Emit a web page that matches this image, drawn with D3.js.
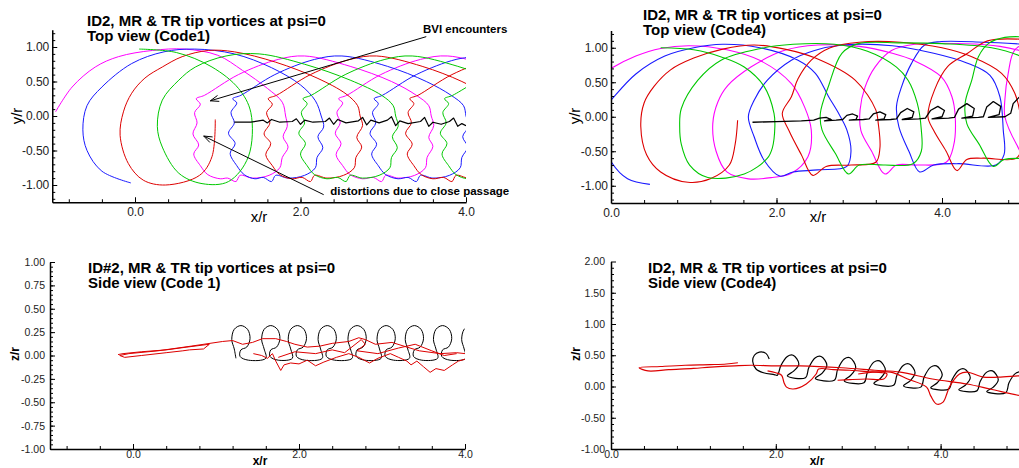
<!DOCTYPE html>
<html>
<head>
<meta charset="utf-8">
<script src="https://cdn.jsdelivr.net/npm/d3@7"></script>
<style>
  body { margin: 0; background: #fff; }
  svg { font-family: "Liberation Sans", Arial, sans-serif; }
</style>
</head>
<body>
<div id="wrapper"></div>
<script>
// ---- top view, Code1 (main rotor tip vortices, one trace per blade) ----
const top1Magenta = [[-0.96,0.06],[-0.76,0.42],[-0.48,0.71],[-0.2,0.86],[0.21,0.95],[0.6,0.97],[1.0,0.88],[1.3,0.66],[1.6,0.4],[1.78,0.2],[1.82,0.0],
  [1.84,-0.15],[1.79,-0.3],[1.85,-0.45],[1.78,-0.6],[1.75,-0.75],[1.62,-0.86],[1.42,-0.9],[1.27,-0.86],[1.22,-0.95],[1.12,-0.9],[1.03,-0.91],[0.88,-0.85],
  [0.79,-0.72],[0.71,-0.55],[0.77,-0.42],[0.7,-0.26],[0.75,-0.1],[0.72,0.05],[0.79,0.17],[0.74,0.25],[0.84,0.3],[1.25,0.6],[1.73,0.82],[2.05,0.87],
  [2.6,0.72],[3.1,0.5],[3.4,0.3],[3.55,0.15],[3.58,0.0],
  [3.61,-0.14],[3.55,-0.31],[3.6,-0.44],[3.53,-0.6],[3.51,-0.75],[3.38,-0.86],[3.18,-0.9],[3.03,-0.86],[2.98,-0.95],[2.88,-0.89],[2.75,-0.91],[2.6,-0.85],
  [2.51,-0.72],[2.43,-0.56],[2.49,-0.4],[2.42,-0.25],[2.48,-0.1],[2.44,0.05],[2.51,0.19],[2.46,0.25],[2.56,0.3],[2.97,0.6],[3.45,0.82],[3.78,0.87],[4.3,0.72],[4.8,0.5]];
const top1Blue = [[-0.05,-0.97],[-0.4,-0.8],[-0.58,-0.5],[-0.63,-0.2],[-0.58,0.15],[-0.4,0.42],[-0.04,0.76],[0.35,0.93],[0.72,0.97],[1.2,0.9],[1.65,0.7],[2.0,0.45],[2.18,0.22],[2.25,0.0],
  [2.28,-0.16],[2.21,-0.3],[2.27,-0.46],[2.2,-0.6],[2.18,-0.75],[2.05,-0.86],[1.85,-0.9],[1.7,-0.86],[1.65,-0.95],[1.55,-0.89],[1.45,-0.91],[1.32,-0.85],
  [1.23,-0.72],[1.15,-0.54],[1.21,-0.4],[1.13,-0.25],[1.2,-0.1],[1.16,0.05],[1.23,0.19],[1.18,0.25],[1.28,0.3],[1.69,0.6],[2.17,0.82],[2.5,0.87],
  [3.05,0.72],[3.52,0.5],[3.82,0.3],[3.97,0.15],[4.0,0.0],
  [4.03,-0.15],[3.96,-0.3],[4.02,-0.45],[3.95,-0.6],[3.93,-0.75],[3.8,-0.86],[3.6,-0.9],[3.45,-0.86],[3.4,-0.95],[3.3,-0.89],[3.18,-0.91],[3.03,-0.85],
  [2.94,-0.72],[2.86,-0.55],[2.92,-0.41],[2.84,-0.25],[2.91,-0.1],[2.87,0.05],[2.94,0.18],[2.89,0.25],[2.99,0.3],[3.4,0.6],[3.88,0.82],[4.21,0.87]];
const top1Red = [[0.97,-0.05],[0.93,-0.59],[0.78,-0.86],[0.37,-1.0],[0.1,-0.93],[-0.08,-0.69],[-0.18,-0.28],[-0.14,0.06],[-0.04,0.33],[0.12,0.55],[0.33,0.71],[0.57,0.86],[0.89,0.95],[1.2,0.93],
  [1.7,0.78],[2.2,0.55],[2.55,0.32],[2.69,0.15],[2.72,0.0],
  [2.75,-0.14],[2.68,-0.31],[2.74,-0.45],[2.67,-0.6],[2.65,-0.75],[2.52,-0.86],[2.32,-0.9],[2.17,-0.86],[2.12,-0.95],[2.02,-0.89],[1.9,-0.91],[1.75,-0.85],
  [1.66,-0.72],[1.58,-0.56],[1.64,-0.4],[1.56,-0.26],[1.63,-0.1],[1.59,0.05],[1.66,0.17],[1.61,0.25],[1.71,0.3],[2.12,0.6],[2.6,0.82],[2.92,0.87],
  [3.47,0.72],[3.95,0.5],[4.25,0.3],[4.4,0.15],[4.43,0.0],
  [4.45,-0.15],[4.4,-0.3],[4.45,-0.45],[4.39,-0.6],[4.35,-0.75],[4.23,-0.86],[4.03,-0.9],[3.88,-0.86],[3.83,-0.95],[3.73,-0.89],[3.6,-0.91],[3.46,-0.85],
  [3.37,-0.72],[3.29,-0.55],[3.35,-0.41],[3.27,-0.25],[3.34,-0.1],[3.3,0.05],[3.37,0.18],[3.32,0.25],[3.42,0.3],[3.83,0.6],[4.31,0.82],[4.63,0.87]];
const top1Green = [[0.05,0.97],[0.5,0.92],[0.93,0.71],[1.25,0.4],[1.4,0.05],[1.37,-0.59],[1.13,-0.95],[0.81,-0.98],[0.53,-0.83],[0.33,-0.45],[0.27,-0.15],[0.33,0.23],[0.53,0.52],[0.73,0.71],[1.1,0.87],[1.5,0.9],
  [2.05,0.75],[2.6,0.52],[2.98,0.3],[3.12,0.15],[3.15,0.0],
  [3.18,-0.15],[3.11,-0.3],[3.17,-0.46],[3.1,-0.6],[3.08,-0.75],[2.95,-0.86],[2.75,-0.9],[2.6,-0.86],[2.55,-0.95],[2.45,-0.89],[2.32,-0.91],[2.17,-0.85],
  [2.08,-0.72],[2.0,-0.55],[2.06,-0.4],[1.98,-0.25],[2.05,-0.1],[2.01,0.05],[2.08,0.18],[2.03,0.25],[2.13,0.3],[2.54,0.6],[3.02,0.82],[3.35,0.87],
  [3.9,0.72],[4.4,0.5],[4.72,0.3],[4.85,0.0],[4.85,-0.6],[4.7,-0.86],[4.45,-0.9],[4.3,-0.86],[4.25,-0.95],[4.15,-0.89],[4.02,-0.91],[3.88,-0.85],
  [3.79,-0.72],[3.71,-0.55],[3.77,-0.4],[3.69,-0.25],[3.76,-0.1],[3.72,0.05],[3.79,0.18],[3.74,0.25],[3.84,0.3],[4.25,0.6]];
const top1Black = [[1.2,-0.09],[1.4,-0.09],[1.55,-0.06],[1.6,-0.1],[1.65,-0.05],[1.75,-0.09],[1.9,-0.08],[1.95,-0.04],[2.0,-0.12],[2.05,-0.06],[2.15,-0.09],[2.3,-0.08],[2.35,-0.03],[2.4,-0.12],[2.45,-0.05],[2.55,-0.1],[2.7,-0.07],[2.75,-0.02],[2.8,-0.13],[2.85,-0.06],[2.95,-0.1],[3.05,-0.06],[3.1,-0.01],[3.15,-0.14],[3.2,-0.07],[3.3,-0.11],[3.45,-0.08],[3.5,-0.02],[3.55,-0.15],[3.6,-0.09],[3.7,-0.12],[3.8,-0.08],[3.85,-0.03],[3.9,-0.15],[3.95,-0.11],[4.0,-0.14]];

// ---- top view, Code4 ----
const top4Magenta = [[-0.45,0.0],[-0.3,0.45],[0.0,0.7],[0.3,0.88],[0.6,0.99],[0.95,1.03],[1.4,0.97],[1.81,0.81],[2.18,0.48],[2.34,0.14],[2.42,-0.19],[2.38,-0.58],[2.18,-0.82],[1.95,-0.88],[1.66,-0.9],[1.4,-0.8],[1.27,-0.5],[1.23,-0.1],[1.29,0.21],[1.41,0.45],[1.69,0.72],[2.09,0.96],[2.5,1.04],[3.0,1.02],[3.4,0.92],[3.67,0.81],[3.99,0.58],[4.12,0.29],[4.16,0.0],[4.14,-0.42],[4.05,-0.66],[3.7,-0.7],[3.45,-0.7],[3.31,-0.83],[3.15,-0.5],[3.02,-0.2],[3.01,0.1],[3.07,0.43],[3.19,0.72],[3.39,0.96],[3.67,1.05],[4.2,1.06],[4.7,1.02],[5.2,0.85],[5.6,0.5],[5.8,0.0],[5.75,-0.5],[5.5,-0.62],[5.2,-0.62],[5.08,-0.72],[4.9,-0.4],[4.76,0.0],[4.76,0.25],[4.8,0.63],[4.88,0.97],[5.1,1.1]];
const top4Blue = [[0.47,-0.98],[0.2,-0.9],[0.0,-0.65],[-0.15,-0.2],[-0.1,0.1],[0.0,0.24],[0.3,0.62],[0.65,0.88],[1.0,1.0],[1.35,1.05],[1.8,1.0],[2.26,0.82],[2.47,0.63],[2.63,0.29],[2.75,0.05],[2.85,-0.19],[2.9,-0.5],[2.85,-0.72],[2.5,-0.77],[2.2,-0.8],[2.04,-0.86],[1.85,-0.63],[1.73,-0.29],[1.66,0.0],[1.73,0.24],[1.89,0.53],[2.18,0.82],[2.46,0.96],[2.8,1.04],[3.4,1.03],[3.9,0.92],[4.3,0.78],[4.58,0.6],[4.7,0.29],[4.74,-0.19],[4.75,-0.55],[4.65,-0.7],[4.2,-0.68],[3.9,-0.7],[3.73,-0.8],[3.6,-0.5],[3.48,-0.15],[3.45,0.15],[3.51,0.43],[3.63,0.77],[3.79,1.04],[3.99,1.09],[4.5,1.08],[5.0,1.05]];
const top4Red = [[1.53,-0.05],[1.5,-0.4],[1.43,-0.7],[1.2,-0.9],[0.93,-0.95],[0.6,-0.8],[0.43,-0.55],[0.36,-0.14],[0.4,0.2],[0.52,0.44],[0.72,0.68],[1.0,0.85],[1.35,0.98],[1.73,1.04],[2.1,0.98],[2.47,0.85],[2.95,0.53],[3.2,0.1],[3.23,-0.1],[3.25,-0.45],[3.2,-0.66],[2.9,-0.7],[2.6,-0.72],[2.44,-0.85],[2.3,-0.55],[2.15,-0.2],[2.07,0.05],[2.18,0.29],[2.26,0.55],[2.42,0.82],[2.65,1.0],[3.0,1.08],[3.5,1.08],[4.0,1.0],[4.36,0.87],[4.72,0.63],[4.88,0.34],[4.95,0.0],[4.97,-0.4],[4.9,-0.6],[4.5,-0.6],[4.3,-0.62],[4.18,-0.78],[4.05,-0.5],[3.9,-0.2],[3.83,0.0],[3.91,0.39],[4.07,0.73],[4.31,0.92],[4.55,1.1],[5.0,1.12]];
const top4Green = [[0.6,1.0],[1.0,0.97],[1.35,0.86],[1.61,0.72],[1.85,0.44],[1.97,0.05],[1.98,-0.15],[1.95,-0.45],[1.89,-0.6],[1.61,-0.83],[1.17,-0.88],[0.95,-0.7],[0.85,-0.4],[0.83,-0.14],[0.85,0.12],[1.05,0.53],[1.33,0.82],[1.81,0.99],[2.2,1.05],[2.7,1.05],[3.1,0.95],[3.45,0.72],[3.59,0.53],[3.7,0.2],[3.75,-0.19],[3.75,-0.5],[3.65,-0.68],[3.3,-0.7],[3.0,-0.7],[2.87,-0.83],[2.71,-0.53],[2.55,-0.19],[2.53,0.05],[2.63,0.45],[2.79,0.92],[2.99,1.06],[3.5,1.07],[4.0,1.06],[4.6,1.0],[5.0,0.85],[5.3,0.6],[5.45,0.0],[5.4,-0.55],[5.0,-0.6],[4.75,-0.62],[4.62,-0.72],[4.45,-0.4],[4.3,-0.1],[4.28,0.2],[4.36,0.53],[4.44,0.87],[4.56,1.06],[4.76,1.15],[5.1,1.15]];
const top4Black = [[1.71,-0.08],[2.0,-0.07],[2.3,-0.06],[2.45,-0.05],[2.52,-0.02],[2.6,-0.01],[2.66,-0.04],[2.58,-0.06],[2.72,-0.05],[2.8,-0.04],[2.85,0.02],[2.92,0.04],[2.98,0.01],[2.96,-0.04],[2.88,-0.05],[3.05,-0.04],[3.12,-0.03],[3.17,0.04],[3.25,0.07],[3.32,0.03],[3.3,-0.03],[3.2,-0.05],[3.38,-0.04],[3.45,-0.03],[3.5,0.06],[3.58,0.12],[3.66,0.07],[3.64,-0.01],[3.52,-0.04],[3.72,-0.03],[3.8,-0.02],[3.86,0.09],[3.95,0.15],[4.03,0.09],[4.0,0.0],[3.88,-0.03],[4.08,-0.02],[4.15,-0.01],[4.2,0.11],[4.3,0.19],[4.39,0.12],[4.37,0.01],[4.24,-0.02],[4.44,-0.01],[4.5,0.0],[4.54,0.14],[4.62,0.22],[4.71,0.15],[4.69,0.03],[4.56,-0.01],[4.76,0.0],[4.83,0.05],[4.86,0.19],[4.93,0.28],[5.0,0.2]];

// ---- side view, Code 1 ----
const side1Black = [[1.24,-0.03],[1.22,0.07],[1.19,0.17],[1.22,0.28],[1.3,0.32],[1.38,0.28],[1.41,0.18],[1.37,0.09],[1.3,0.06],[1.29,-0.01],[1.39,-0.05],
  [1.6,-0.03],[1.58,0.07],[1.55,0.17],[1.58,0.28],[1.66,0.32],[1.74,0.28],[1.77,0.18],[1.73,0.09],[1.66,0.06],[1.65,-0.01],[1.75,-0.05],
  [1.92,-0.03],[1.9,0.07],[1.87,0.17],[1.9,0.28],[1.98,0.32],[2.06,0.28],[2.09,0.18],[2.05,0.09],[1.98,0.06],[1.97,-0.01],[2.07,-0.05],
  [2.28,-0.03],[2.26,0.07],[2.23,0.17],[2.26,0.28],[2.34,0.32],[2.42,0.28],[2.45,0.18],[2.41,0.09],[2.34,0.06],[2.33,-0.01],[2.43,-0.05],
  [2.64,-0.03],[2.62,0.07],[2.59,0.17],[2.62,0.28],[2.7,0.32],[2.78,0.28],[2.81,0.18],[2.77,0.09],[2.7,0.06],[2.69,-0.01],[2.79,-0.05],
  [2.99,-0.03],[2.97,0.07],[2.94,0.17],[2.97,0.28],[3.05,0.32],[3.13,0.28],[3.16,0.18],[3.12,0.09],[3.05,0.06],[3.04,-0.01],[3.14,-0.05],
  [3.33,-0.03],[3.31,0.07],[3.28,0.17],[3.31,0.28],[3.39,0.32],[3.47,0.28],[3.5,0.18],[3.46,0.09],[3.39,0.06],[3.38,-0.01],[3.48,-0.05],
  [3.67,-0.03],[3.65,0.07],[3.62,0.17],[3.65,0.28],[3.73,0.32],[3.81,0.28],[3.84,0.18],[3.8,0.09],[3.73,0.06],[3.72,-0.01],[3.82,-0.05],
  [4.01,-0.03],[3.99,0.07],[3.96,0.17],[3.99,0.28],[4.07,0.32]];
const side1Red = [[-0.18,0.01],[-0.12,0.02],[0.1,0.04],[0.4,0.06],[0.65,0.09],[0.92,0.12],[0.85,0.07],[0.68,0.06],[0.6,0.05],[0.4,0.03],[0.1,0.0],[-0.1,-0.02],[-0.16,0.0],[-0.05,0.02],[0.3,0.05],[0.7,0.1],[1.08,0.15],[1.2,0.16],[1.32,0.12],[1.44,0.14],[1.56,0.18],[1.72,0.18],[1.85,0.15],[1.95,0.12],[2.1,0.09],[2.25,0.1],[2.4,0.13],[2.6,0.15],[2.72,0.19],[2.8,0.17],[2.92,0.12],[3.12,0.14],[3.3,0.09],[3.45,0.05],[3.7,0.02],[3.9,0.03],[4.0,0.02]];
const side1RedLow = [[1.45,0.02],[1.55,0.0],[1.62,-0.03],[1.68,0.02],[1.72,-0.06],[1.78,-0.16],[1.82,-0.1],[1.9,-0.08],[2.0,-0.09],[2.1,-0.05],[2.2,-0.11],[2.3,-0.07],[2.45,-0.02],[2.6,0.02],[2.72,-0.02],[2.85,-0.08],[2.95,-0.03],[3.1,0.02],[3.2,-0.02],[3.3,-0.06],[3.35,-0.1],[3.42,-0.06],[3.5,-0.12],[3.58,-0.18],[3.65,-0.14],[3.75,-0.16],[3.85,-0.1],[3.92,-0.06],[4.0,-0.04]];
const side1RedMid = [[1.75,-0.02],[1.95,0.04],[2.2,0.02],[2.4,0.06],[2.55,0.03],[2.75,0.17],[2.8,0.12],[2.7,0.05],[2.95,0.02],[3.2,0.08],[3.4,0.12],[3.6,0.05],[3.75,0.0],[3.9,0.02]];

// ---- side view, Code4 ----
const side4Black = [[1.92,0.44],[1.88,0.53],[1.8,0.55],[1.74,0.5],[1.72,0.4],[1.76,0.28],[1.85,0.22],[1.98,0.19],
  [2.02,0.18],[2.06,0.33],[2.14,0.48],[2.21,0.5],[2.28,0.36],[2.22,0.25],[2.14,0.17],
  [2.36,0.14],[2.4,0.3],[2.48,0.46],[2.55,0.48],[2.62,0.34],[2.56,0.21],[2.48,0.13],
  [2.71,0.1],[2.75,0.27],[2.83,0.44],[2.9,0.46],[2.97,0.31],[2.91,0.18],[2.83,0.09],
  [3.07,0.06],[3.11,0.22],[3.19,0.39],[3.26,0.41],[3.33,0.26],[3.27,0.13],[3.19,0.05],
  [3.43,0.02],[3.47,0.18],[3.55,0.34],[3.62,0.36],[3.69,0.22],[3.63,0.09],[3.55,0.01],
  [3.76,-0.01],[3.8,0.15],[3.88,0.31],[3.95,0.33],[4.02,0.19],[3.96,0.06],[3.88,-0.02],
  [4.1,-0.04],[4.14,0.11],[4.22,0.26],[4.29,0.28],[4.36,0.14],[4.3,0.02],[4.22,-0.05],
  [4.44,-0.07],[4.48,0.08],[4.56,0.23],[4.63,0.25],[4.7,0.11],[4.64,-0.01],[4.56,-0.08],
  [4.79,-0.1],[4.83,0.06],[4.91,0.21],[4.98,0.23],[5.05,0.09]];
const side4Red = [[1.54,0.38],[1.4,0.36],[1.2,0.35],[0.9,0.34],[0.6,0.32],[0.34,0.3],[0.45,0.25],[0.7,0.27],[1.0,0.29],[1.21,0.31],[1.5,0.33],[1.7,0.34],[2.0,0.33],[2.3,0.33],[2.8,0.3],[3.2,0.26],[3.51,0.23],[3.9,0.12],[4.32,0.04],[4.6,-0.04],[4.94,-0.14],[5.1,-0.18]];
const side4RedWave = [[1.9,0.25],[2.0,0.22],[2.07,0.18],[2.1,0.06],[2.13,-0.01],[2.21,-0.04],[2.37,0.04],[2.49,0.2],[2.52,0.28],[2.7,0.27],[2.9,0.26],[3.1,0.24],[3.3,0.22],[3.35,0.2],[3.31,0.12],[3.1,0.12],[2.9,0.11],[2.75,0.1]];
const side4RedDip = [[3.0,0.2],[3.39,0.23],[3.6,0.12],[3.83,-0.01],[3.88,-0.15],[3.95,-0.28],[4.03,-0.25],[4.08,-0.1],[4.11,0.0],[4.23,0.2],[4.32,0.23],[4.52,0.15],[4.7,0.15],[4.94,0.17],[5.1,0.18]];

// ---- ticks and labels ----
const topXMajor = [0, 2, 4];
const topYMajor = [-1, -0.5, 0, 0.5, 1];
const side1YMajor = [-1, -0.75, -0.5, -0.25, 0, 0.25, 0.5, 0.75, 1];
const side4YMajor = [-1, -0.5, 0, 0.5, 1, 1.5, 2];
const titleLine1 = ["ID2, MR & TR tip vortices at psi=0", "ID2, MR & TR tip vortices at psi=0", "ID#2, MR & TR tip vortices at psi=0", "ID2, MR & TR tip vortices at psi=0"];
const titleLine2 = ["Top view (Code1)", "Top view (Code4)", "Side view (Code 1)", "Side view (Code4)"];

const MAG = "#ff00ff", BLU = "#1a1aff", RED = "#dd0000", GRN = "#00c800", BLK = "#000";

const svg = d3.select("#wrapper").append("svg").attr("width", 1019).attr("height", 468);

const panels = [
  { key: "top1", xDom: [-1, 4], xRange: [52.25, 466], yDom: [-1.25, 1.25], yRange: [202.25, 29.75],
    xMajor: topXMajor, xMinor: d3.range(-0.8, 4.01, 0.4), yMajor: topYMajor, yMinor: d3.range(-1.2, 1.21, 0.1),
    tickFont: 12, xPad: 5, yPad: 3, bold: false, axFont: 15,
    xTitle: [259, 222], yTitle: [22, 116], yName: "y/r", title: [87, 25.5], ti: 0 },
  { key: "top4", xDom: [0, 5], xRange: [611, 1024.75], yDom: [-1.25, 1.25], yRange: [203, 30.5],
    xMajor: topXMajor, xMinor: d3.range(0.4, 5.01, 0.4), yMajor: topYMajor, yMinor: d3.range(-1.2, 1.21, 0.1),
    tickFont: 12, xPad: 5, yPad: 3, bold: false, axFont: 15,
    xTitle: [818, 222], yTitle: [580, 116], yName: "y/r", title: [643, 20], ti: 1 },
  { key: "side1", xDom: [-1, 4], xRange: [50, 465], yDom: [-1, 1], yRange: [449, 262],
    xMajor: topXMajor, xMinor: d3.range(-0.8, 4.01, 0.4), yMajor: side1YMajor, yMinor: d3.range(-0.95, 0.96, 0.05),
    tickFont: 10.5, xPad: 2, yPad: 5, bold: true, axFont: 12,
    xTitle: [260, 465], yTitle: [18.5, 354], yName: "z/r", title: [88, 273], ti: 2 },
  { key: "side4", xDom: [0, 5], xRange: [611, 1023], yDom: [-1, 2], yRange: [449, 261.5],
    xMajor: topXMajor, xMinor: d3.range(0.4, 5.01, 0.4), yMajor: side4YMajor, yMinor: d3.range(-0.9, 1.91, 0.1),
    tickFont: 10.5, xPad: 2, yPad: 6, bold: true, axFont: 12,
    xTitle: [817, 465], yTitle: [580, 354], yName: "z/r", title: [648, 272.5], ti: 3 }
];

function makePanel(p) {
  const x = d3.scaleLinear().domain(p.xDom).range(p.xRange);
  const y = d3.scaleLinear().domain(p.yDom).range(p.yRange);
  const g = svg.append("g").attr("class", p.key);

  svg.append("clipPath").attr("id", "clip-" + p.key)
    .append("rect")
    .attr("x", p.xRange[0]).attr("y", p.yRange[1])
    .attr("width", p.xRange[1] - p.xRange[0])
    .attr("height", p.yRange[0] - p.yRange[1]);
  const plot = g.append("g").attr("clip-path", `url(#clip-${p.key})`);

  // minor ticks, pointing inside
  g.append("g").attr("transform", `translate(0,${p.yRange[0]})`)
    .call(d3.axisBottom(x).tickValues(p.xMinor).tickSizeInner(-3).tickSizeOuter(0).tickFormat(""))
    .call(a => a.select(".domain").remove());
  g.append("g").attr("transform", `translate(${p.xRange[0]},0)`)
    .call(d3.axisLeft(y).tickValues(p.yMinor).tickSizeInner(-3).tickSizeOuter(0).tickFormat(""))
    .call(a => a.select(".domain").remove());

  // major ticks + labels
  const xa = g.append("g").attr("transform", `translate(0,${p.yRange[0]})`)
    .call(d3.axisBottom(x).tickValues(p.xMajor).tickSizeInner(-5).tickSizeOuter(0)
      .tickPadding(p.xPad).tickFormat(d => d.toFixed(1)));
  const ya = g.append("g").attr("transform", `translate(${p.xRange[0]},0)`)
    .call(d3.axisLeft(y).tickValues(p.yMajor).tickSizeInner(-5).tickSizeOuter(0)
      .tickPadding(p.yPad).tickFormat(d => d.toFixed(2)));
  [xa, ya].forEach(a => {
    a.select(".domain").attr("stroke-width", 1.5);
    a.selectAll("text").attr("font-size", p.tickFont).attr("fill", "#222")
      .attr("font-family", "'Liberation Sans', Arial, sans-serif");
  });
  g.selectAll(".tick line").attr("stroke", "#000");

  // axis titles
  g.append("text").attr("x", p.xTitle[0]).attr("y", p.xTitle[1])
    .attr("text-anchor", "middle").attr("font-size", p.axFont)
    .attr("font-weight", p.bold ? "bold" : "normal").text("x/r");
  g.append("text")
    .attr("transform", `translate(${p.yTitle[0]},${p.yTitle[1]}) rotate(-90)`)
    .attr("text-anchor", "middle").attr("font-size", p.axFont)
    .attr("font-weight", p.bold ? "bold" : "normal").text(p.yName);

  // chart title, two lines in one text block
  const t = g.append("text").attr("x", p.title[0]).attr("y", p.title[1])
    .attr("font-size", 15).attr("font-weight", "bold");
  t.append("tspan").attr("x", p.title[0]).text(titleLine1[p.ti]);
  t.append("tspan").attr("x", p.title[0]).attr("dy", 15).text(titleLine2[p.ti]);

  return { x, y, g, plot };
}

function drawSeries(panel, list) {
  list.forEach(s => {
    const line = d3.line()
      .x(d => panel.x(d[0]))
      .y(d => panel.y(d[1]))
      .curve(s.smooth ? d3.curveCatmullRom.alpha(0.5) : d3.curveLinear);
    panel.plot.append("path")
      .datum(s.data)
      .attr("fill", "none")
      .attr("stroke", s.color)
      .attr("stroke-width", s.width || 1)
      .attr("stroke-linejoin", "round")
      .attr("d", line);
  });
}

const P = panels.map(makePanel);

drawSeries(P[0], [
  { data: top1Magenta, color: MAG, smooth: true },
  { data: top1Blue, color: BLU, smooth: true },
  { data: top1Red, color: RED, smooth: true },
  { data: top1Green, color: GRN, smooth: true },
  { data: top1Black, color: BLK, width: 1.2 }
]);
drawSeries(P[1], [
  { data: top4Magenta, color: MAG, smooth: true, width: 1.1 },
  { data: top4Blue, color: BLU, smooth: true, width: 1.1 },
  { data: top4Red, color: RED, smooth: true, width: 1.1 },
  { data: top4Green, color: GRN, smooth: true, width: 1.1 },
  { data: top4Black, color: BLK, width: 1.3 }
]);
drawSeries(P[2], [
  { data: side1Black, color: BLK, smooth: true },
  { data: side1Red, color: RED },
  { data: side1RedLow, color: RED },
  { data: side1RedMid, color: RED }
]);
drawSeries(P[3], [
  { data: side4Black, color: BLK, smooth: true, width: 1.2 },
  { data: side4Red, color: RED, smooth: true, width: 1.2 },
  { data: side4RedWave, color: RED, smooth: true, width: 1.2 },
  { data: side4RedDip, color: RED, smooth: true, width: 1.2 }
]);

// annotations on the Code1 top view (data coordinates)
const notes = [
  { text: "BVI encounters", at: [3.48, 1.2], from: [3.52, 1.15], to: [0.91, 0.22] },
  { text: "distortions due to close passage", at: [2.36, -1.145], from: [2.28, -1.14], to: [0.83, -0.29] }
];
notes.forEach(n => {
  const p = P[0];
  const x1 = p.x(n.from[0]), y1 = p.y(n.from[1]), x2 = p.x(n.to[0]), y2 = p.y(n.to[1]);
  p.g.append("line").attr("x1", x1).attr("y1", y1).attr("x2", x2).attr("y2", y2)
    .attr("stroke", "#000").attr("stroke-width", 1);
  const ang = Math.atan2(y1 - y2, x1 - x2);
  [-0.35, 0.35].forEach(da => {
    p.g.append("line").attr("x1", x2).attr("y1", y2)
      .attr("x2", x2 + 9 * Math.cos(ang + da)).attr("y2", y2 + 9 * Math.sin(ang + da))
      .attr("stroke", "#000").attr("stroke-width", 1);
  });
  p.g.append("text").attr("x", p.x(n.at[0])).attr("y", p.y(n.at[1]))
    .attr("font-size", 11.5).attr("font-weight", "bold").text(n.text);
});
</script>
</body>
</html>
